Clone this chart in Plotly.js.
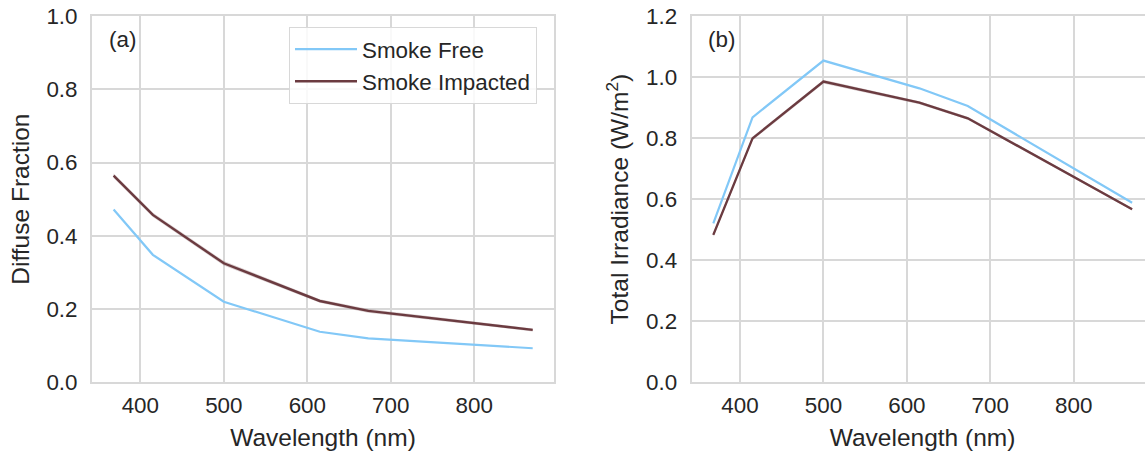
<!DOCTYPE html>
<html>
<head>
<meta charset="utf-8">
<script src="https://cdn.plot.ly/plotly-3.0.1.min.js"></script>
<style>
  html, body { margin: 0; padding: 0; background: #fff; overflow: hidden; width: 1145px; height: 456px; }
  #chart { width: 1160px; height: 456px; }
</style>
</head>
<body>
<div id="chart"></div>
<script>
// ---- Data ----
const wavelength = [368, 415, 500, 615, 673, 870];

// (a) Diffuse fraction
const diffuseFree      = [0.472, 0.348, 0.220, 0.138, 0.120, 0.093];
const diffuseImpacted  = [0.564, 0.457, 0.325, 0.222, 0.195, 0.143];
const diffuseImpLow    = [0.558, 0.451, 0.319, 0.217, 0.190, 0.139];
const diffuseImpHigh   = [0.570, 0.463, 0.331, 0.227, 0.200, 0.147];

// (b) Total irradiance (W/m2)
const irrFree          = [0.521, 0.868, 1.054, 0.963, 0.905, 0.588];
const irrImpacted      = [0.483, 0.799, 0.985, 0.916, 0.865, 0.567];
const irrImpLow        = [0.477, 0.793, 0.979, 0.911, 0.860, 0.563];
const irrImpHigh       = [0.489, 0.805, 0.991, 0.921, 0.870, 0.571];

const seriesNames = ["Smoke Free", "Smoke Impacted"];
const yTicksA = [0, 0.2, 0.4, 0.6, 0.8, 1.0];
const yTicksB = [0, 0.2, 0.4, 0.6, 0.8, 1.0, 1.2];
const xTicks = [400, 500, 600, 700, 800];

// ---- Styling ----
const W = 1160, H = 456;
const colFree = "#82c8f7";
const colImp = "#6b3b40";
const bandFill = "rgba(107,59,64,0.25)";
const txt = "#262626";
const grid = "#d8d8d8";
const FONT = "Liberation Sans, Arial, Helvetica, sans-serif";

const yd = [(H - 382.3) / H, (H - 16) / H];

function bandTraces(xa, ya, low, high) {
  return [
    {x: wavelength, y: low, xaxis: xa, yaxis: ya, mode: "lines", line: {width: 0, color: bandFill}, showlegend: false, hoverinfo: "skip"},
    {x: wavelength, y: high, xaxis: xa, yaxis: ya, mode: "lines", line: {width: 0, color: bandFill}, fill: "tonexty", fillcolor: bandFill, showlegend: false, hoverinfo: "skip"}
  ];
}

const traces = [
  ...bandTraces("x", "y", diffuseImpLow, diffuseImpHigh),
  {x: wavelength, y: diffuseFree, xaxis: "x", yaxis: "y", mode: "lines", name: seriesNames[0], line: {color: colFree, width: 2.2}, legendgroup: "f"},
  {x: wavelength, y: diffuseImpacted, xaxis: "x", yaxis: "y", mode: "lines", name: seriesNames[1], line: {color: colImp, width: 2.4}, legendgroup: "i"},
  ...bandTraces("x2", "y2", irrImpLow, irrImpHigh),
  {x: wavelength, y: irrFree, xaxis: "x2", yaxis: "y2", mode: "lines", name: seriesNames[0], line: {color: colFree, width: 2.2}, showlegend: false, legendgroup: "f"},
  {x: wavelength, y: irrImpacted, xaxis: "x2", yaxis: "y2", mode: "lines", name: seriesNames[1], line: {color: colImp, width: 2.4}, showlegend: false, legendgroup: "i"}
];

function xAxis(domain, anchor) {
  return {
    domain: domain, anchor: anchor, range: [342.1, 895.5],
    tickmode: "array", tickvals: xTicks, ticktext: xTicks.map(String),
    showgrid: true, gridcolor: grid, gridwidth: 2,
    showline: true, mirror: true, linecolor: grid, linewidth: 2,
    zeroline: false, ticks: "", ticklabelstandoff: 2,
    tickfont: {size: 22.4, color: txt, family: FONT},
    title: {text: "Wavelength (nm)", font: {size: 24.5, color: txt, family: FONT}, standoff: 12},
    automargin: false
  };
}
function yAxis(domain, anchor, range, ticks, title) {
  return {
    domain: domain, anchor: anchor, range: range,
    tickmode: "array", tickvals: ticks, ticktext: ticks.map(v => v.toFixed(1)),
    showgrid: true, gridcolor: grid, gridwidth: 2,
    showline: true, mirror: true, linecolor: grid, linewidth: 2,
    zeroline: false, ticks: "", ticklabelstandoff: 8,
    tickfont: {size: 22.4, color: txt, family: FONT},
    title: {text: title, font: {size: 24.5, color: txt, family: FONT}, standoff: 10},
    automargin: false
  };
}

const layout = {
  width: W, height: H,
  margin: {l: 0, r: 0, t: 0, b: 0, pad: 0},
  paper_bgcolor: "#ffffff", plot_bgcolor: "#ffffff",
  font: {family: FONT, color: txt, size: 22.4},
  showlegend: true,
  legend: {
    x: 289 / W, y: 1 - 27 / H, xanchor: "left", yanchor: "top",
    bgcolor: "rgba(255,255,255,0.85)", bordercolor: grid, borderwidth: 1,
    font: {size: 22.4, color: txt, family: FONT},
    tracegroupgap: 0, itemwidth: 62
  },
  xaxis: xAxis([92 / W, 554 / W], "y"),
  yaxis: yAxis(yd, "x", [0, 1.0], yTicksA, "Diffuse Fraction"),
  xaxis2: xAxis([691.7 / W, 1153.4 / W], "y2"),
  yaxis2: yAxis(yd, "x2", [0, 1.2], yTicksB, "Total Irradiance (W/m<sup>2</sup>)"),
  annotations: [
    {xref: "x domain", yref: "y domain", x: 0.032, y: 0.935, xanchor: "left", yanchor: "middle", text: "(a)", showarrow: false, font: {size: 22.4, color: txt, family: FONT}},
    {xref: "x2 domain", yref: "y2 domain", x: 0.032, y: 0.935, xanchor: "left", yanchor: "middle", text: "(b)", showarrow: false, font: {size: 22.4, color: txt, family: FONT}}
  ]
};

Plotly.newPlot("chart", traces, layout, {staticPlot: true, displayModeBar: false});
</script>
</body>
</html>
